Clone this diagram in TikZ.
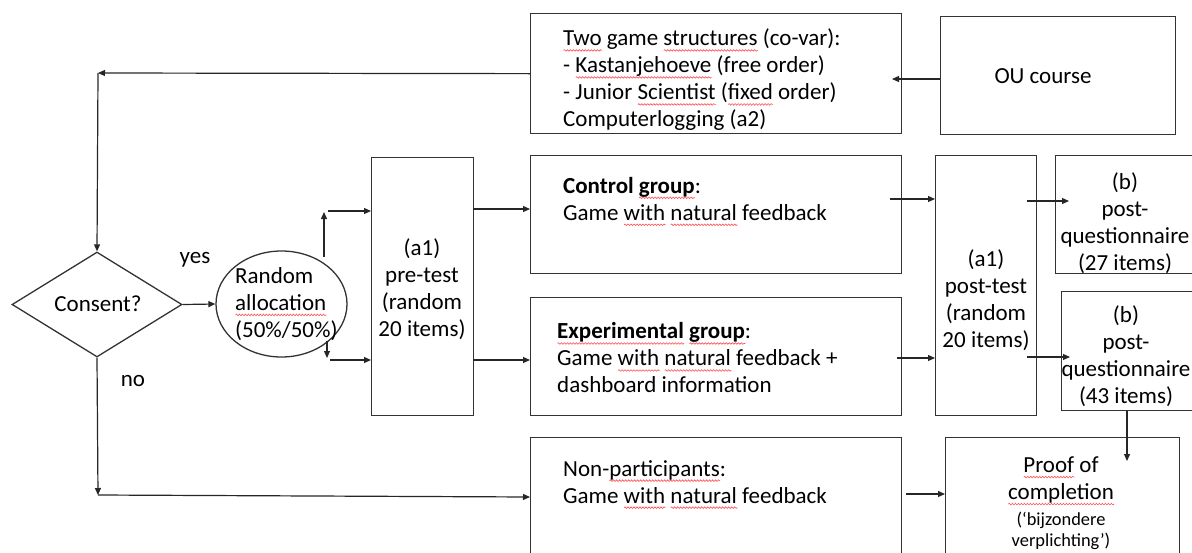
\documentclass[tikz,border=0pt]{standalone}
\usepackage{fontspec}
\setmainfont{Carlito}
\usetikzlibrary{shapes.geometric,arrows.meta,decorations.pathmorphing}
\newsavebox{\sqbox}
\newcommand\sq[1]{\sbox{\sqbox}{#1}\rlap{\tikz[baseline=0pt]\draw[red!70, line width=0.6pt, decorate, decoration={snake, amplitude=0.8pt, segment length=3pt}] (0pt,-4.5pt) -- (\wd\sqbox,-4.5pt);}#1}
\begin{document}
\begin{tikzpicture}[x=1pt,y=-1pt,
  box/.style={draw=black!80, line width=1.3pt, rectangle, inner sep=0pt, anchor=north west},
  txt/.style={inner sep=0pt, font=\fontsize{23}{27}\selectfont, align=left},
  ctxt/.style={inner sep=0pt, font=\fontsize{23}{27}\selectfont, align=center},
  stxt/.style={inner sep=0pt, font=\fontsize{18.4}{21}\selectfont, align=center},
  arr/.style={draw=black!85, line width=1.2pt, -{Triangle[length=7pt,width=6pt]}}]
\useasboundingbox (0,0) rectangle (1192,552);

% boxes
\node[box, minimum width=371pt, minimum height=120pt] (games) at (530,13) {};
\node[box, minimum width=235pt, minimum height=118pt] (ou) at (940,16) {};
\node[box, minimum width=102pt, minimum height=258pt] (pre) at (371,157) {};
\node[box, minimum width=371pt, minimum height=118pt] (ctrl) at (530,155) {};
\node[box, minimum width=371pt, minimum height=118pt] (exp) at (530,297) {};
\node[box, minimum width=371pt, minimum height=135pt] (nonp) at (530,437) {};
\node[box, minimum width=101pt, minimum height=260pt] (post) at (935,155) {};
\node[box, minimum width=160pt, minimum height=118pt] (b1) at (1055,155) {};
\node[box, minimum width=160pt, minimum height=119pt] (b2) at (1061,291) {};
\node[box, minimum width=234pt, minimum height=135pt] (proof) at (945,437) {};
\node[diamond, draw=black!80, line width=1.3pt, inner sep=0pt, minimum width=170pt, minimum height=105pt] (consent) at (97,304.5) {};
\node[ellipse, draw=black!80, line width=1.3pt, inner sep=0pt, minimum width=131pt, minimum height=106pt] (rand) at (281.5,304) {};

% texts
\node[txt, anchor=west] (gamestxt) at (563,80) {\sq{Two} game \sq{structures} (co-var):\\- \sq{Kastanjehoeve} (free order)\\- Junior \sq{Scientist} (\sq{fixed} order)\\Computerlogging (a2)};
\node[ctxt] (outxt) at (1043,76) {OU course};
\node[ctxt] (consenttxt) at (98,304) {Consent?};
\node[txt] (yes) at (195,260) {yes};
\node[txt] (no) at (133,381) {no};
\node[txt, anchor=west] (randtxt) at (235,304) {Random\\\sq{allocation}\\(50\%/50\%)};
\node[ctxt] (pretxt) at (422,289) {(a1)\\pre-test\\(random\\20 items)};
\node[txt, anchor=west] (ctrltxt) at (563,201.5) {\textbf{Control \sq{group}}:\\Game \sq{with} \sq{natural} feedback};
\node[txt, anchor=west] (exptxt) at (557,358) {\textbf{\sq{Experimental} \sq{group}}:\\Game \sq{with} \sq{natural} feedback +\\dashboard information};
\node[txt, anchor=west] (nonptxt) at (563,484.5) {Non-\sq{participants}:\\Game \sq{with} \sq{natural} feedback};
\node[ctxt] (posttxt) at (986,300.5) {(a1)\\post-test\\(random\\20 items)};
\node[ctxt] (b1txt) at (1125,223) {(b)\\post-\\questionnaire\\(27 items)};
\node[ctxt] (b2txt) at (1126,356) {(b)\\post-\\questionnaire\\(43 items)};
\node[ctxt] (prooftxt) at (1061,481) {\sq{Proof} of\\\sq{completion}};
\node[stxt] (proofsmall) at (1061,530.5) {(‘bijzondere\\verplichting’)};

% connectors
\coordinate (c1) at (98,73);
\coordinate (c2) at (98,495);
\coordinate (k0) at (892,79);
\coordinate (u1) at (324,257);
\coordinate (u2) at (324,212);
\coordinate (u3) at (328,211);
\coordinate (d1) at (327,341);
\coordinate (d2) at (327,358);
\coordinate (d3) at (330,360);
\coordinate (p1) at (473,209);
\coordinate (p2) at (473,360);
\coordinate (k1) at (890,199);
\coordinate (k2) at (897,358);
\coordinate (k3) at (1027,201);
\coordinate (k4) at (1069,201);
\coordinate (k5) at (1027,357);
\coordinate (k6) at (1070,357);
\coordinate (k7) at (906,494);
\coordinate (k8) at (1127,461);

\draw[arr] (ou.west |- k0) -- (k0);
\draw[arr] (games.west) -- (c1);
\draw[arr] (c1) -- (consent.north);
\draw[arr] (consent.east) -- (rand.west);
\draw[arr] (u1) -- (u2);
\draw[arr] (u3) -- (pre.west |- u3);
\draw[arr] (d1) -- (d2);
\draw[arr] (d3) -- (pre.west |- d3);
\draw[arr] (p1) -- (ctrl.west |- p1);
\draw[arr] (p2) -- (exp.west |- p2);
\draw[arr] (k1) -- (post.west |- k1);
\draw[arr] (k2) -- (post.west |- k2);
\draw[arr] (k3) -- (k4);
\draw[arr] (k5) -- (k6);
\draw[arr] (consent.south) -- (c2);
\draw[arr] (c2) -- (nonp.west |- 0,497);
\draw[arr] (k7) -- (proof.west |- k7);
\draw[arr] (k8 |- b2.south) -- (k8);
\end{tikzpicture}
\end{document}
